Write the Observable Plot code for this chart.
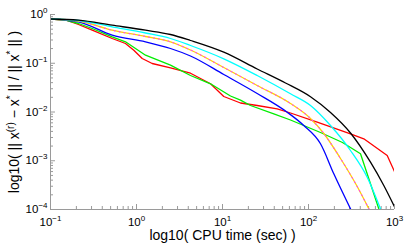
<!DOCTYPE html>
<html>
<head>
<meta charset="utf-8">
<script src="https://cdn.jsdelivr.net/npm/d3@7"></script>
<script src="https://cdn.jsdelivr.net/npm/@observablehq/plot@0.6"></script>
<style>
  html, body { margin: 0; padding: 0; background: #fff; }
</style>
</head>
<body>
<div id="chart"></div>
<script>
// CPU time (sec) and relative error per method
const blackT = [0.1, 0.2117, 0.5217, 1.273, 2.485, 4.246, 10.35, 25.32, 54.03, 105.5, 180.3, 307.8, 526, 750.8, 1027];
const blackE = [0.809, 0.764, 0.603, 0.4764, 0.3889, 0.2929, 0.1685, 0.0762, 0.03935, 0.02055, 0.00977, 0.00371, 0.000934, 0.000311, 0.0001034];

const cyanT = [0.1, 0.2117, 0.5217, 1.273, 2.485, 4.246, 10.35, 25.32, 61.76, 105.5, 180.3, 307.8, 481.5, 687.4];
const cyanE = [0.809, 0.7535, 0.5595, 0.4174, 0.3219, 0.2312, 0.1234, 0.05607, 0.02362, 0.01359, 0.00528, 0.001623, 0.00046, 0.0001034];

const yellowT = [0.1, 0.2117, 0.5217, 1.273, 2.485, 4.246, 10.35, 25.32, 61.76, 105.5, 150.7, 235.6, 368.5, 502.8];
const yellowE = [0.809, 0.7356, 0.4764, 0.3537, 0.2754, 0.187, 0.08178, 0.03496, 0.01494, 0.007356, 0.003622, 0.001112, 0.000296, 0.0001034];

const blueT = [0.1, 0.2117, 0.5217, 1.273, 2.485, 4.246, 10.35, 25.32, 56.53, 88.16, 137.9, 196.9, 307.8];
const blueE = [0.809, 0.7083, 0.3762, 0.2754, 0.2007, 0.1408, 0.05877, 0.02396, 0.0099, 0.00528, 0.002227, 0.00054, 0.0001034];

const greenT = [0.1, 0.1494, 0.2117, 0.3054, 0.5217, 0.7447, 0.9736, 1.273, 2.485, 4.246, 7.254, 12.39, 16.19, 21.17, 39.5, 61.76, 137.9, 248.5, 402.5, 656.8];
const greenE = [0.809, 0.7712, 0.6537, 0.5163, 0.3487, 0.2754, 0.2007, 0.1463, 0.0912, 0.05607, 0.03789, 0.0213, 0.01754, 0.01359, 0.009186, 0.006854, 0.003797, 0.002367, 0.001389, 0.0001034];

const redT = [0.1, 0.1494, 0.2117, 0.3054, 0.5217, 0.7447, 0.9302, 1.165, 1.522, 2.485, 4.246, 7.254, 10.35, 16.19, 25.32, 43.25, 61.76, 126.3, 307.8, 439.5, 822.6, 1027];
const redE = [0.809, 0.7712, 0.6235, 0.4764, 0.3219, 0.2542, 0.1852, 0.1252, 0.09883, 0.0807, 0.06249, 0.03789, 0.02079, 0.0153, 0.01359, 0.01163, 0.00954, 0.006176, 0.003571, 0.002821, 0.001281, 0.00054];

const xMajor = [0.1, 1, 10, 100, 1000];
const yMajor = [1e-4, 1e-3, 1e-2, 1e-1, 1];
const minorSteps = [2, 3, 4, 5, 6, 7, 8, 9];
const xTitle = "log10( CPU time (sec) )";
const yTitle = "log10( || x(r) − x* || / || x* || )";

const toRows = (T, E) => T.map((t, i) => ({t, e: E[i]}));
const xMinor = xMajor.slice(0, -1).flatMap(d => minorSteps.map(k => d * k));
const yMinor = yMajor.slice(0, -1).flatMap(d => minorSteps.map(k => d * k));

const W = 407, H = 243, mL = 50, mR = 13, mT = 14, mB = 34;
const pw = W - mL - mR, ph = H - mT - mB;
const axisGray = "#9a9a9a";
const lw = 1.3;

const line = (T, E, color, curve, extra = {}) =>
  Plot.line(toRows(T, E), {x: "t", y: "e", stroke: color, strokeWidth: lw, curve, clip: true, ...extra});

const chart = Plot.plot({
  width: W, height: H,
  marginLeft: mL, marginRight: mR, marginTop: mT, marginBottom: mB,
  style: {fontFamily: "'Liberation Sans', Arial, Helvetica, sans-serif", fontSize: "12px", background: "#fff", color: "#000"},
  x: {type: "log", domain: [0.1, 1000]},
  y: {type: "log", domain: [1e-4, 1]},
  marks: [
    // inward ticks
    Plot.ruleX(xMajor, {x: d => d, stroke: axisGray, insetTop: ph - 5}),
    Plot.ruleX(xMinor, {x: d => d, stroke: axisGray, insetTop: ph - 3}),
    Plot.ruleY(yMajor, {y: d => d, stroke: axisGray, insetRight: pw - 5}),
    Plot.ruleY(yMinor, {y: d => d, stroke: axisGray, insetRight: pw - 3}),
    line(redT, redE, "#ff0000", "linear"),
    line(greenT, greenE, "#00ee00", "linear"),
    line(blueT, blueE, "#0000ff", "monotone-x"),
    line(yellowT, yellowE, "#ffd000", "monotone-x"),
    line(yellowT, yellowE, "#ff44ff", "monotone-x", {strokeDasharray: "1,4", strokeWidth: 1.1}),
    line(cyanT, cyanE, "#00ffff", "monotone-x"),
    line(blackT, blackE, "#000000", "monotone-x"),
    // axis lines
    Plot.ruleX([0.1], {stroke: axisGray}),
    Plot.ruleY([1e-4], {stroke: axisGray}),
    Plot.axisX(xMajor, {tickSize: 0, tickPadding: 8, label: null, fontSize: 11.5,
      tickFormat: d => "10^" + Math.round(Math.log10(d))}),
    Plot.axisY(yMajor, {tickSize: 0, tickPadding: 3, label: null, fontSize: 11.5,
      tickFormat: d => "10^" + Math.round(Math.log10(d))}),
    Plot.text([xTitle], {frameAnchor: "bottom", lineAnchor: "top", dy: 20.5, text: d => d, fontSize: 14}),
    Plot.text(["YTITLE"], {frameAnchor: "left", textAnchor: "middle", lineAnchor: "middle", dx: -36, rotate: -90, text: d => d, fontSize: 14})
  ]
});

const ns = "http://www.w3.org/2000/svg";
const sup = (txt, dy, size) => {
  const ts = document.createElementNS(ns, "tspan");
  ts.setAttribute("dy", dy);
  if (size) ts.setAttribute("font-size", size);
  ts.textContent = txt;
  return ts;
};
chart.querySelectorAll("text").forEach(t => {
  const m = t.textContent.match(/^10\^(-?\d+)$/);
  if (m) {
    t.textContent = "10";
    t.append(sup(m[1].replace("-", "−"), "-5", "8"));
  } else if (t.textContent === "YTITLE") {
    t.textContent = "log10( || x";
    t.append(sup("(r)", "-5", "10"));
    t.append(sup(" − x", "5"));
    t.append(sup("*", "-5", "10"));
    t.append(sup(" || / || x", "5"));
    t.append(sup("*", "-5", "10"));
    t.append(sup(" || )", "5"));
  }
});
document.getElementById("chart").append(chart);
</script>
</body>
</html>
